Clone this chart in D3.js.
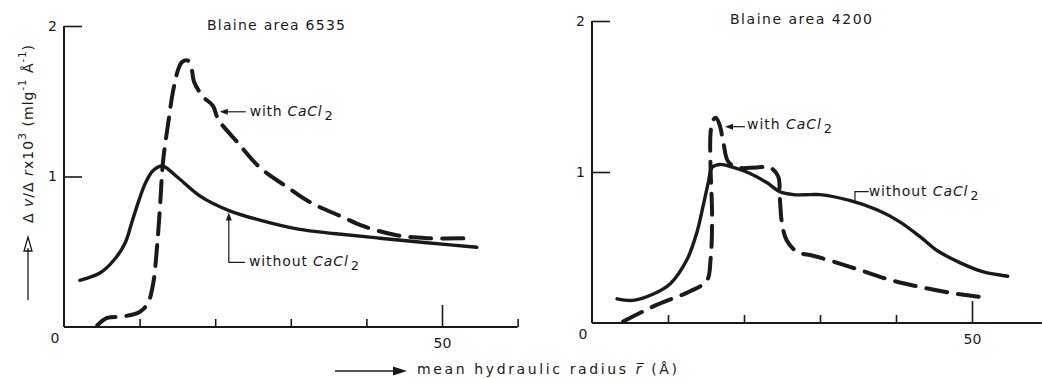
<!DOCTYPE html>
<html><head><meta charset="utf-8">
<script src="https://cdn.jsdelivr.net/npm/d3@7"></script>
<style>
html,body{margin:0;padding:0;background:#fff;}
svg{display:block;font-family:"DejaVu Sans","Liberation Sans",sans-serif;}
</style></head>
<body><svg id="c" width="1042" height="378"></svg>
<script>
// ---------- DATA ----------
const xTicksLeft = [10,20,30,40,50,60];
const xTicksRight = [10,20,30,40,50];
const yTicks = [1,2];
const titles = ["Blaine area  6535","Blaine area  4200"];

// Left panel (Blaine 6535)
const leftWithoutR = [2.1,4.8,6.7,8.1,9.0,9.9,10.8,11.8,13.0,14.9,18,22,25.9,31,36,41.8,48,54.6];
const leftWithoutV = [0.31,0.36,0.45,0.56,0.70,0.84,0.96,1.04,1.07,1.0,0.87,0.77,0.71,0.65,0.62,0.59,0.56,0.53];
const leftWithR = [4.4,5.7,7.8,10,11.1,11.8,12.3,12.7,13.1,13.8,14.4,15.1,15.6,16.4,16.9,17.2,18.4,19.7,20.4,22.9,25.9,29.5,32.5,36.9,39.6,44,48,54.1];
const leftWithV = [0.01,0.06,0.07,0.10,0.16,0.29,0.53,0.80,1.10,1.36,1.56,1.71,1.76,1.77,1.71,1.63,1.53,1.47,1.38,1.23,1.06,0.93,0.83,0.73,0.67,0.61,0.59,0.59];

// Right panel (Blaine 4200)
const rightWithoutR = [3.3,5.4,8.0,10.3,12.5,13.8,14.6,15.3,15.8,16.8,18.6,20.8,23,24.7,26.5,28.7,30,34,37.5,40.5,43.2,45.4,48.4,51.4,54.7];
const rightWithoutV = [0.16,0.15,0.19,0.26,0.42,0.60,0.77,0.93,1.03,1.05,1.03,0.99,0.93,0.87,0.85,0.85,0.85,0.81,0.75,0.67,0.57,0.48,0.40,0.34,0.31];
const rightWithR = [4.1,8.5,12.9,15.1,15.6,15.8,15.6,15.6,15.9,16.3,16.8,17.3,17.9,19.1,21.7,23.4,24.5,24.7,25.0,25.6,27,28.7,30.9,35.3,39.6,44,48.4,51.7];
const rightWithV = [0.01,0.12,0.21,0.28,0.42,0.70,1.03,1.26,1.34,1.36,1.31,1.19,1.07,1.03,1.03,1.03,0.97,0.84,0.66,0.55,0.47,0.45,0.42,0.35,0.28,0.23,0.19,0.17];

// Annotations (data coordinates)
const leftWithAnno = {tip:[20.6,1.43], text:[24.3,1.43]};
const leftWithoutAnno = {tip:[21.8,0.76], corner:[21.8,0.43], text:[24.2,0.43]};
const rightWithAnno = {tip:[17.5,1.30], text:[20.4,1.31]};
const rightWithoutAnno = {tip:[34.6,0.80], corner:[34.6,0.87], text:[36.4,0.87]};

// ---------- DRAWING ----------
const svg = d3.select("#c");
const ink = "#1a1a1a";
const smooth = d3.curveCatmullRom.alpha(0.5);

const panels = [
  {x: d3.scaleLinear().domain([0,60]).range([64,517.6]), y: d3.scaleLinear().domain([0,2]).range([327,26]),
   ticks: xTicksLeft, axisEnd: 60, title: titles[0], titlePos:[207,30], titleLen:138,
   series:[[leftWithoutR,leftWithoutV,false],[leftWithR,leftWithV,true]]},
  {x: d3.scaleLinear().domain([0,50]).range([592,972]), y: d3.scaleLinear().domain([0,2]).range([323,21]),
   ticks: xTicksRight, axisEnd: 59.2, title: titles[1], titlePos:[730,24], titleLen:142,
   series:[[rightWithoutR,rightWithoutV,false],[rightWithR,rightWithV,true]]}
];

panels.forEach(p => {
  const g = svg.append("g");
  // x axis
  const xa = g.append("g").attr("transform",`translate(0,${p.y(0)})`)
    .call(d3.axisBottom(p.x).tickValues(p.ticks).tickSize(-8).tickSizeOuter(0).tickPadding(11)
      .tickFormat(d => d===50 ? "50" : ""));
  xa.select(".domain").remove();
  xa.selectAll(".tick line").attr("stroke",ink).attr("stroke-width",1.6)
    .attr("y2", d => d===50 ? -22 : -8);
  xa.selectAll(".tick text").attr("fill",ink).attr("font-size",14).attr("font-family","DejaVu Sans");
  g.append("line").attr("x1",p.x(0)).attr("x2",p.x(p.axisEnd))
    .attr("y1",p.y(0)).attr("y2",p.y(0)).attr("stroke",ink).attr("stroke-width",2);
  // y axis
  const ya = g.append("g").attr("transform",`translate(${p.x(0)},0)`)
    .call(d3.axisLeft(p.y).tickValues(yTicks).tickSize(-18).tickSizeOuter(0).tickPadding(7)
      .tickFormat(d3.format("d")));
  ya.select(".domain").attr("stroke",ink).attr("stroke-width",2).attr("d",`M0,${p.y(0)}V${p.y(2)}`);
  ya.selectAll(".tick line").attr("stroke",ink).attr("stroke-width",1.6);
  ya.selectAll(".tick text").attr("fill",ink).attr("font-size",14).attr("font-family","DejaVu Sans");
  // origin label
  g.append("text").attr("x",p.x(0)-9).attr("y",p.y(0)+16).attr("text-anchor","middle")
    .attr("font-size",14).attr("fill",ink).text("0");
  // title
  g.append("text").attr("x",p.titlePos[0]).attr("y",p.titlePos[1]).attr("font-size",14)
    .attr("textLength",p.titleLen).attr("lengthAdjust","spacing")
    .attr("fill",ink).text(p.title);
  // curves
  p.series.forEach(([R,V,dashed]) => {
    const pts = R.map((r,i) => [p.x(r), p.y(V[i])]);
    g.append("path").attr("d",d3.line().curve(smooth)(pts)).attr("fill","none").attr("stroke",ink)
      .attr("stroke-width", dashed ? 4 : 3.4).attr("stroke-linecap","round").attr("stroke-linejoin","round")
      .attr("stroke-dasharray", dashed ? "21,11" : null);
  });
});

// arrowhead helper
function head(x,y,dir){
  let d;
  if(dir==='left') d=`M${x},${y}L${x+8},${y-3}L${x+8},${y+3}Z`;
  else d=`M${x},${y}L${x-3},${y+8}L${x+3},${y+8}Z`;
  svg.append("path").attr("d",d).attr("fill",ink);
}
function label(x,y,len){
  return svg.append("text").attr("x",x).attr("y",y).attr("font-size",14).attr("fill",ink)
    .attr("dominant-baseline","middle").attr("textLength",len).attr("lengthAdjust","spacing");
}
function cacl(t, prefix){
  t.append("tspan").text(prefix);
  t.append("tspan").attr("font-style","italic").text("CaCl");
  t.append("tspan").attr("dy",4).attr("dx",2).attr("font-size",13).text("2");
}

// left annotations
{
  const P = panels[0];
  const a = leftWithAnno;
  svg.append("line").attr("x1",P.x(a.text[0])-2).attr("x2",P.x(a.tip[0])+6)
    .attr("y1",P.y(a.tip[1])).attr("y2",P.y(a.tip[1])).attr("stroke",ink).attr("stroke-width",1.2);
  head(P.x(a.tip[0]),P.y(a.tip[1]),'left');
  cacl(label(P.x(a.text[0])+2,P.y(a.text[1]),83),"with ");
  const b = leftWithoutAnno;
  svg.append("path").attr("d",`M${P.x(b.text[0])-2},${P.y(b.corner[1])}H${P.x(b.corner[0])}V${P.y(b.tip[1])+6}`)
    .attr("fill","none").attr("stroke",ink).attr("stroke-width",1.2);
  head(P.x(b.tip[0]),P.y(b.tip[1]),'up');
  cacl(label(P.x(b.text[0])+2,P.y(b.text[1]),110),"without ");
}
// right annotations
{
  const P = panels[1];
  const a = rightWithAnno;
  svg.append("line").attr("x1",P.x(a.text[0])-2).attr("x2",P.x(a.tip[0])+6)
    .attr("y1",P.y(a.tip[1])).attr("y2",P.y(a.tip[1])).attr("stroke",ink).attr("stroke-width",1.2);
  head(P.x(a.tip[0]),P.y(a.tip[1]),'left');
  cacl(label(P.x(a.text[0]),P.y(a.text[1]),85),"with ");
  const b = rightWithoutAnno;
  svg.append("path").attr("d",`M${P.x(b.text[0])},${P.y(b.corner[1])}H${P.x(b.corner[0])}V${P.y(b.tip[1])}`)
    .attr("fill","none").attr("stroke",ink).attr("stroke-width",1.2);
  cacl(label(P.x(b.text[0]),P.y(b.text[1]),110),"without ");
}

// x-axis title
svg.append("line").attr("x1",335).attr("x2",397).attr("y1",371).attr("y2",371).attr("stroke",ink).attr("stroke-width",1.3);
svg.append("path").attr("d","M407,371L393,366.5L393,375.5Z").attr("fill",ink);
{
  const t = svg.append("text").attr("x",417).attr("y",374).attr("font-size",14).attr("fill",ink)
    .attr("textLength",260).attr("lengthAdjust","spacing");
  t.append("tspan").text("mean hydraulic radius  ");
  t.append("tspan").attr("font-style","italic").text("r\u0305");
  t.append("tspan").text("  (Å)");
}
// y-axis title
svg.append("line").attr("x1",28).attr("x2",28).attr("y1",300).attr("y2",248).attr("stroke",ink).attr("stroke-width",1.3);
svg.append("path").attr("d","M28,237L24,251L32,251Z").attr("fill","none").attr("stroke",ink).attr("stroke-width",1.3);
{
  const t = svg.append("text").attr("transform","translate(33,223) rotate(-90)").attr("font-size",14).attr("fill",ink)
    .attr("textLength",178).attr("lengthAdjust","spacing");
  t.append("tspan").text("\u0394 ");
  t.append("tspan").attr("font-style","italic").text("v");
  t.append("tspan").text("/\u0394 ");
  t.append("tspan").attr("font-style","italic").text("r");
  t.append("tspan").text("x10");
  t.append("tspan").attr("dy",-7).attr("font-size",11).text("3");
  t.append("tspan").attr("dy",7).text(" (mlg");
  t.append("tspan").attr("dy",-7).attr("font-size",10).text("-1");
  t.append("tspan").attr("dy",7).text(" \u00C5");
  t.append("tspan").attr("dy",-7).attr("font-size",10).text("-1");
  t.append("tspan").attr("dy",7).text(")");
}
</script></body></html>
